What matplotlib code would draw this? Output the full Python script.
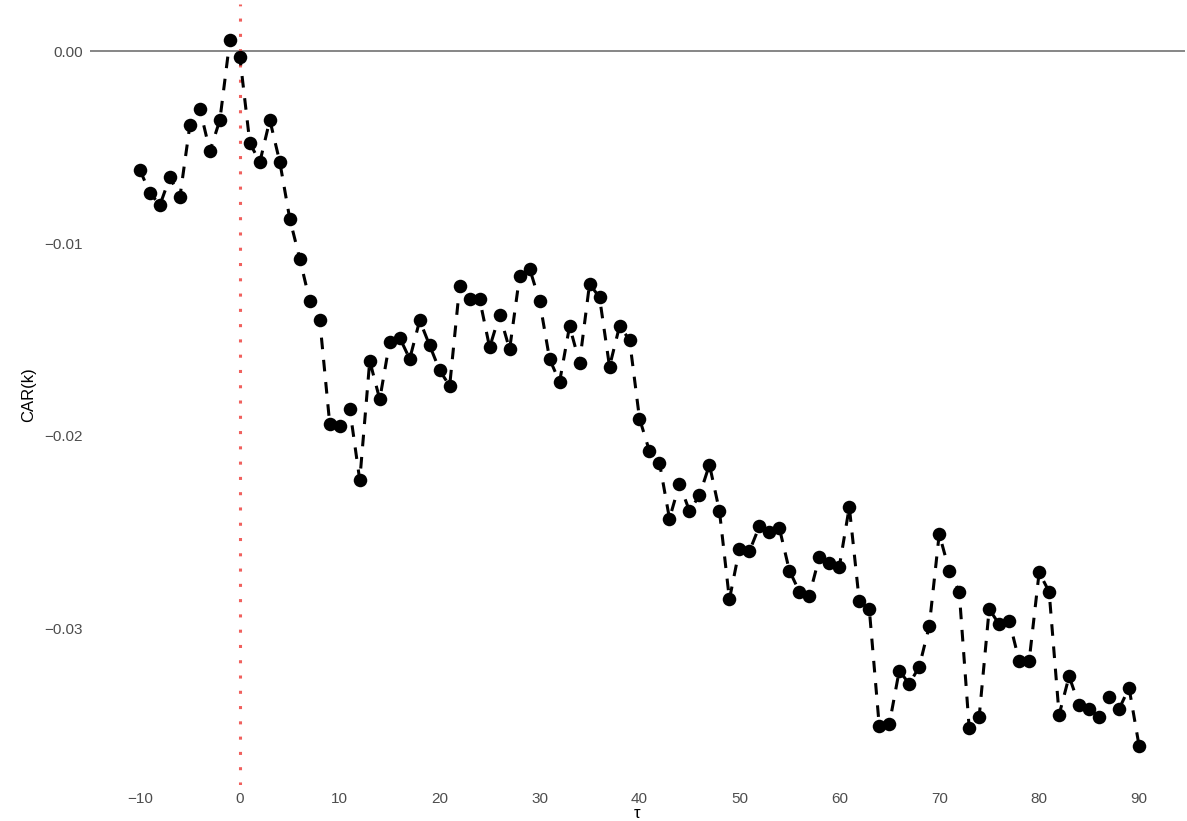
import numpy as np
import matplotlib.pyplot as plt

plt.rcParams['font.family'] = ['Liberation Sans', 'DejaVu Sans']

tau = np.arange(-10, 91)
car = [
    -0.00618, -0.00738, -0.00800, -0.00655, -0.00758, -0.00384, -0.00301, -0.00520, -0.00358, 0.00057,
    -0.00031, -0.00478, -0.00577, -0.00358, -0.00577, -0.00873, -0.01080, -0.01300, -0.01400, -0.01940,
    -0.01950, -0.01860, -0.02230, -0.01610, -0.01810, -0.01510, -0.01490, -0.01600, -0.01400, -0.01530,
    -0.01660, -0.01740, -0.01220, -0.01290, -0.01290, -0.01540, -0.01370, -0.01550, -0.01170, -0.01130,
    -0.01300, -0.01600, -0.01720, -0.01430, -0.01620, -0.01210, -0.01280, -0.01640, -0.01430, -0.01500,
    -0.01910, -0.02080, -0.02140, -0.02430, -0.02250, -0.02390, -0.02310, -0.02150, -0.02390, -0.02850,
    -0.02590, -0.02600, -0.02470, -0.02500, -0.02480, -0.02700, -0.02810, -0.02830, -0.02630, -0.02660,
    -0.02680, -0.02370, -0.02860, -0.02900, -0.03510, -0.03500, -0.03220, -0.03290, -0.03200, -0.02990,
    -0.02510, -0.02700, -0.02810, -0.03520, -0.03460, -0.02900, -0.02980, -0.02960, -0.03170, -0.03170,
    -0.02710, -0.02810, -0.03450, -0.03250, -0.03400, -0.03420, -0.03460, -0.03360, -0.03420, -0.03310,
    -0.03610,
]
xticks = [-10, 0, 10, 20, 30, 40, 50, 60, 70, 80, 90]
yticks = [0.00, -0.01, -0.02, -0.03]

fig = plt.figure(figsize=(11.87, 8.21), dpi=100)
ax = fig.add_axes([90 / 1187, 1 - 785 / 821, 1095 / 1187, 781 / 821])

ax.axhline(0, color='#666666', lw=1.1, zorder=1)
ax.axvline(0, color='#F0605D', lw=2.2, linestyle=(0, (1, 4)), zorder=1)
ax.plot(tau, car, color='black', lw=2.2, linestyle=(0, (3.8, 3.5)), zorder=2)
ax.scatter(tau, car, s=95, color='black', zorder=3, linewidths=0)

ax.set_xlim(-15, 94.6)
ax.set_ylim(-0.03815, 0.00245)
ax.set_xticks(xticks)
ax.set_yticks(yticks)
ax.set_yticklabels(['0.00', '\u22120.01', '\u22120.02', '\u22120.03'])
ax.set_xticklabels([str(t).replace('-', '\u2212') for t in xticks])
ax.tick_params(length=0, labelsize=11, colors='#4d4d4d', pad=5)
for s in ax.spines.values():
    s.set_visible(False)

ax.set_xlabel('\u03c4', fontsize=12, labelpad=0)
ax.set_ylabel('CAR(k)', fontsize=12, labelpad=6)

fig.savefig('out.png', dpi=100)
